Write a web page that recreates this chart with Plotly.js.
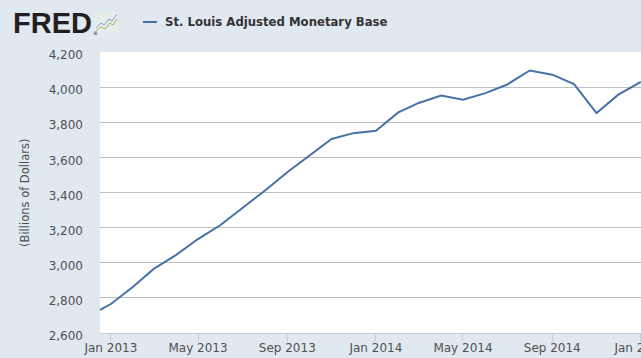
<!DOCTYPE html>
<html>
<head>
<meta charset="utf-8">
<script src="https://cdn.plot.ly/plotly-3.0.1.min.js"></script>
<style>html,body{margin:0;padding:0;background:#e1e9f0;}#chart{width:641px;height:358px;}</style>
</head>
<body>
<div id="chart"></div>
<script>
// Monthly observations (Billions of Dollars)
const months = ["2012-12-01","2013-01-01","2013-02-01","2013-03-01","2013-04-01","2013-05-01","2013-06-01",
  "2013-07-01","2013-08-01","2013-09-01","2013-10-01","2013-11-01","2013-12-01","2014-01-01","2014-02-01",
  "2014-03-01","2014-04-01","2014-05-01","2014-06-01","2014-07-01","2014-08-01","2014-09-01","2014-10-01",
  "2014-11-01","2014-12-01","2015-01-01"];
const baseValues = [2695,2765,2865,2965,3045,3135,3215,3310,3410,3515,3610,3705,3738,3752,3856,
  3910,3952,3928,3966,4015,4095,4071,4017,3852,3957,4030];
const seriesName = "St. Louis Adjusted Monetary Base";
const yTicks = [2600,2800,3000,3200,3400,3600,3800,4000,4200];
const yTickText = ["2,600","2,800","3,000","3,200","3,400","3,600","3,800","4,000","4,200"];
const yTitle = "(Billions of Dollars)";

const W = 641, H = 358, L = 100, R = 0, T = 52, B = 25;
const pw = W - L - R, ph = H - T - B;
const px = x => (x - L) / pw;
const py = y => (H - B - y) / ph;
const font = "DejaVu Sans, Verdana, sans-serif";
const txt = "#505050";

const trace = {
  x: months, y: baseValues, type: "scatter", mode: "lines", name: seriesName,
  line: {color: "#4572a7", width: 2}, showlegend: false, hoverinfo: "x+y"
};

const layout = {
  width: W, height: H,
  margin: {l: L, r: R, t: T, b: B, pad: 0},
  paper_bgcolor: "#e1e9f0", plot_bgcolor: "#ffffff",
  font: {family: font, size: 12, color: txt},
  xaxis: {
    type: "date", range: ["2012-12-17", "2015-01-01 06:00"],
    tick0: "2013-01-01", dtick: "M4", tickformat: "%b %Y",
    ticks: "outside", ticklen: 8, tickwidth: 1, tickcolor: "#c0d0e0",
    showline: true, linecolor: "#c0d0e0", linewidth: 1,
    showgrid: false, zeroline: false, ticklabelstandoff: -4,
    ticklabeloverflow: "allow",
    tickfont: {family: font, size: 12, color: txt}
  },
  yaxis: {
    range: [2600, 4200], tickvals: yTicks, ticktext: yTickText,
    showgrid: true, gridcolor: "#c0c0c0", gridwidth: 1,
    zeroline: false, showline: false, ticks: "", ticklabelstandoff: 16,
    ticklabelshift: 3,
    tickfont: {family: font, size: 12, color: txt}
  },
  shapes: [
    // legend sample
    {type: "line", xref: "paper", yref: "paper", x0: px(143), x1: px(157), y0: py(22), y1: py(22),
     line: {color: "#4572a7", width: 2}},
    // logo icon box
    {type: "rect", xref: "paper", yref: "paper", x0: px(95), x1: px(118), y0: py(33), y1: py(12),
     fillcolor: "#e9ecec", line: {width: 0}},
    {type: "path", xref: "paper", yref: "paper",
     path: `M ${px(96)} ${py(28)} L ${px(101)} ${py(23)} L ${px(104)} ${py(25)} L ${px(109)} ${py(19)} L ${px(112)} ${py(21)} L ${px(117)} ${py(14)}`,
     line: {color: "#7d9fc4", width: 1}},
    {type: "path", xref: "paper", yref: "paper",
     path: `M ${px(96)} ${py(31)} L ${px(101)} ${py(27)} L ${px(105)} ${py(29)} L ${px(110)} ${py(23)} L ${px(113)} ${py(25)} L ${px(117)} ${py(19)}`,
     line: {color: "#8cbf5a", width: 1}}
  ],
  annotations: [
    {text: "FRED", xref: "paper", yref: "paper", x: px(11), y: py(23), xanchor: "left", yanchor: "middle",
     showarrow: false, font: {family: "Liberation Sans, Arial, sans-serif", size: 29, color: "#231f20", weight: "bold"}},
    {text: "®", xref: "paper", yref: "paper", x: px(90.5), y: py(33), xanchor: "left", yanchor: "middle",
     showarrow: false, font: {family: font, size: 5, color: "#231f20"}},
    {text: "<b>" + seriesName + "</b>", xref: "paper", yref: "paper", x: px(163), y: py(22),
     xanchor: "left", yanchor: "middle", showarrow: false, font: {family: font, size: 11.7, color: "#333333"}},
    {text: yTitle, xref: "paper", yref: "paper", x: px(25), y: py(193), xanchor: "center", yanchor: "middle",
     textangle: -90, showarrow: false, font: {family: font, size: 11.5, color: txt}}
  ]
};

Plotly.newPlot("chart", [trace], layout, {displayModeBar: false, staticPlot: true});
</script>
</body>
</html>
